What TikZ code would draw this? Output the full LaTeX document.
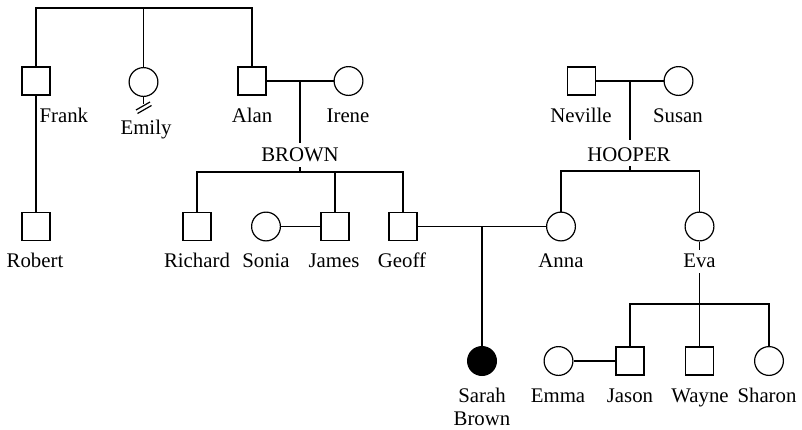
\documentclass[tikz,border=0pt]{standalone}
\usepackage{fontspec}
\setmainfont{Liberation Serif}
\begin{document}
\begin{tikzpicture}[x=0.5pt,y=-0.5pt,line width=0.6pt,
  male/.style={draw,rectangle,minimum size=14pt,inner sep=0pt},
  female/.style={draw,circle,minimum size=14.4pt,inner sep=0pt},
  affected/.style={female,fill=black},
  lbl/.style={anchor=base,inner sep=0pt,font=\fontsize{10.4}{11.5}\selectfont},
  lblw/.style={lbl,anchor=base west}]
\useasboundingbox (0,0) rectangle (802,429);
% people
\node[male] (frank) at (36,81) {};
\node[female] (emily) at (143.5,82) {};
\node[male] (alan) at (252,81) {};
\node[female] (irene) at (348.5,81) {};
\node[male] (neville) at (581.5,81) {};
\node[female] (susan) at (678.5,81) {};
\node[male] (robert) at (36,226.5) {};
\node[male] (richard) at (197,226.5) {};
\node[female] (sonia) at (266,226.5) {};
\node[male] (james) at (335,226.5) {};
\node[male] (geoff) at (403,226.5) {};
\node[female] (anna) at (561,226.5) {};
\node[female] (eva) at (699.5,226.5) {};
\node[affected] (sarah) at (482,361) {};
\node[female] (emma) at (558.5,361) {};
\node[male] (jason) at (630,361) {};
\node[male] (wayne) at (699.5,361) {};
\node[female] (sharon) at (769,361) {};
% labels
\node[lblw] (lfrank) at (39,122) {Frank};
\node[lbl] (lemily) at (146,134) {Emily};
\node[lbl] (lalan) at (252,122) {Alan};
\node[lbl] (lirene) at (348,122) {Irene};
\node[lbl] (lneville) at (581,122) {Neville};
\node[lbl] (lsusan) at (678,122) {Susan};
\node[lbl] (lbrown) at (300,161) {BROWN};
\node[lbl] (lhooper) at (629,161) {HOOPER};
\node[lbl] (lrobert) at (35,267) {Robert};
\node[lbl] (lrichard) at (197,267) {Richard};
\node[lbl] (lsonia) at (266,267) {Sonia};
\node[lbl] (ljames) at (334,267) {James};
\node[lbl] (lgeoff) at (402,267) {Geoff};
\node[lbl] (lanna) at (561,267) {Anna};
\node[lbl] (leva) at (699.5,267) {Eva};
\node[lbl] (lsarah) at (482,402) {Sarah};
\node[lbl] (lsarah2) at (482,425) {Brown};
\node[lbl] (lemma) at (558,402) {Emma};
\node[lbl] (ljason) at (630,402) {Jason};
\node[lbl] (lwayne) at (700,402) {Wayne};
\node[lbl] (lsharon) at (767,402) {Sharon};
% junction coordinates
\coordinate (tl) at (36,8);
\coordinate (tm) at (143.5,8);
\coordinate (tr) at (252,8);
\coordinate (emend) at (143.5,104);
\coordinate (s1a) at (136,110);
\coordinate (s1b) at (150,102);
\coordinate (s2a) at (137.5,113.5);
\coordinate (s2b) at (151.5,105.5);
\coordinate (bm) at (300,81);
\coordinate (bm2) at (300,143);
\coordinate (bt) at (300,167);
\coordinate (bbar) at (300,172);
\coordinate (hm) at (630,81);
\coordinate (hm2) at (630,140);
\coordinate (ht) at (630,166);
\coordinate (hbar) at (630,171);
\coordinate (gam) at (482,226.5);
\coordinate (ev1) at (699.5,250);
\coordinate (ev2) at (699.5,273);
\coordinate (ebar) at (699.5,304);
% connectors
\draw (frank.north) -- (tl) -- (tr) -- (alan.north);
\draw (tm) -- (emily.north);
\draw (emily.south) -- (emend);
\draw (s1a) -- (s1b);
\draw (s2a) -- (s2b);
\draw (frank.south) -- (robert.north);
\draw (alan.east) -- (irene.west);
\draw (bm) -- (bm2);
\draw (bt) -- (bbar);
\draw (richard.north) -- (richard.north |- bbar) -- (geoff.north |- bbar) -- (geoff.north);
\draw (james.north |- bbar) -- (james.north);
\draw (sonia.east) -- (james.west);
\draw (neville.east) -- (susan.west);
\draw (hm) -- (hm2);
\draw (ht) -- (hbar);
\draw (anna.north) -- (anna.north |- hbar) -- (eva.north |- hbar) -- (eva.north);
\draw (geoff.east) -- (anna.west);
\draw (gam) -- (sarah.north);
\draw (eva.south) -- (ev1);
\draw (ev2) -- (ebar);
\draw (jason.north) -- (jason.north |- ebar) -- (sharon.north |- ebar) -- (sharon.north);
\draw (ebar) -- (wayne.north);
\draw (emma.east) -- (jason.west);
\end{tikzpicture}
\end{document}
